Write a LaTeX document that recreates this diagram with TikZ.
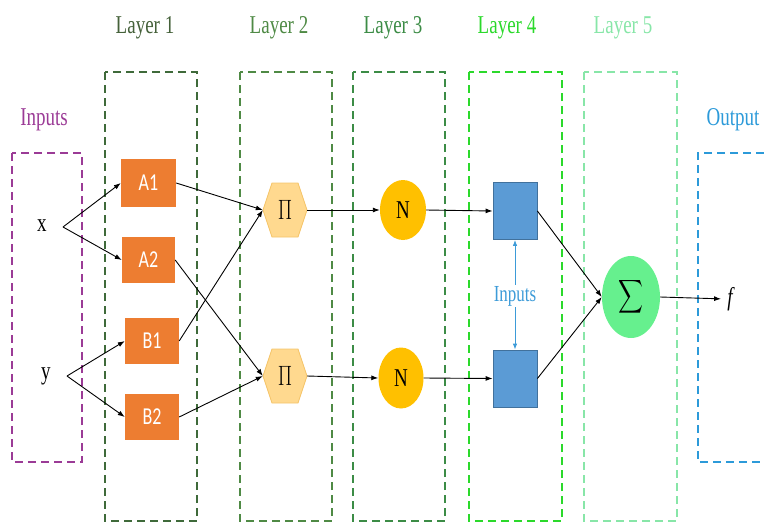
\documentclass[tikz,border=0pt]{standalone}
\usepackage{amsmath}
\usepackage{fontspec}
\setmainfont{Liberation Serif}
\newfontfamily\calib{Carlito}
\usetikzlibrary{arrows.meta,shapes.geometric}
\newcommand\vs[1]{\scalebox{1}[1.35]{#1}}
\definecolor{cpurple}{HTML}{9B3B96}
\definecolor{clayA}{HTML}{3F6A3A}
\definecolor{clayAt}{HTML}{45613A}
\definecolor{clayB}{HTML}{4F8A45}
\definecolor{clayC}{HTML}{3C8C46}
\definecolor{clayD}{HTML}{2BD92B}
\definecolor{clayE}{HTML}{88E6A8}
\definecolor{cblue}{HTML}{2C9AD9}
\definecolor{corange}{HTML}{ED7D31}
\definecolor{chex}{HTML}{FFD98F}
\definecolor{chexb}{HTML}{F5C56B}
\definecolor{cgold}{HTML}{FFC000}
\definecolor{csq}{HTML}{5B9BD5}
\definecolor{csqb}{HTML}{41719C}
\definecolor{csig}{HTML}{66F08E}
\definecolor{cinp}{HTML}{3D9BD8}
\tikzset{
  dbox/.style={line width=2.6pt, dash pattern=on 8pt off 5pt},
  lab/.style={font=\fontsize{19}{21}\selectfont},
  obox/.style={rectangle, fill=corange, text=white, inner sep=0pt, font=\calib\fontsize{18}{20}\selectfont},
  hexlab/.style={rectangle, minimum width=44pt, minimum height=54pt, inner sep=0pt, font=\fontsize{21}{23}\selectfont},
  nnode/.style={ellipse, fill=cgold, minimum width=46pt, minimum height=60pt, inner sep=0pt, font=\fontsize{19}{21}\selectfont},
  sqnode/.style={rectangle, fill=csq, draw=csqb, line width=0.8pt, minimum width=44pt, minimum height=57pt, inner sep=0pt},
  arr/.style={-{Latex[length=7pt,width=5pt]}, line width=0.9pt, black},
  barr/.style={-{Latex[length=6pt,width=4.5pt]}, line width=0.8pt, cinp},
}
\begin{document}
\begin{tikzpicture}[x=1pt,y=-1pt]
\useasboundingbox (0,0) rectangle (764,523);
% layer boxes
\draw[dbox, cpurple] (12,153) rectangle (82,462);
\draw[dbox, clayA] (105,72) rectangle (197,521);
\draw[dbox, clayB] (240,72) rectangle (332,521);
\draw[dbox, clayC] (353,72) rectangle (445,521);
\draw[dbox, clayD] (469,72) rectangle (562,521);
\draw[dbox, clayE] (584,72) rectangle (677,521);
\draw[dbox, cblue] (764,153) -- (698,153) -- (698,462) -- (764,462);
% labels
\node[lab, text=cpurple] (linp) at (44,120) {\vs{Inputs}};
\node[lab, text=clayAt] (l1) at (145,28) {\vs{Layer 1}};
\node[lab, text=clayB] (l2) at (279,28) {\vs{Layer 2}};
\node[lab, text=clayC] (l3) at (393,28) {\vs{Layer 3}};
\node[lab, text=clayD] (l4) at (507,28) {\vs{Layer 4}};
\node[lab, text=clayE] (l5) at (623,28) {\vs{Layer 5}};
\node[lab, text=cblue] (lout) at (733,120) {\vs{Output}};
% inputs
\node[lab, inner sep=1pt] (x) at (42,226) {\vs{x}};
\node[lab, inner sep=1pt] (y) at (46,376) {\vs{y}};
\coordinate (xo) at (63,227);
\coordinate (yo) at (67,376);
% layer 1
\node[obox, minimum width=55pt, minimum height=48pt] (A1) at (148.5,183) {\vs{A1}};
\node[obox, minimum width=53pt, minimum height=46pt] (A2) at (148.5,260) {\vs{A2}};
\node[obox, minimum width=54pt, minimum height=46pt] (B1) at (152,341) {\vs{B1}};
\node[obox, minimum width=54pt, minimum height=46pt] (B2) at (152,417) {\vs{B2}};
% layer 2 hexagons
\filldraw[fill=chex, draw=chexb, line width=0.8pt] (272,183) -- (298,183) -- (307,210) -- (298,237) -- (272,237) -- (263,210) -- cycle;
\filldraw[fill=chex, draw=chexb, line width=0.8pt] (272,349) -- (298,349) -- (307,376) -- (298,403) -- (272,403) -- (263,376) -- cycle;
\node[hexlab] (P1) at (285,210) {\vs{$\Pi$}};
\node[hexlab] (P2) at (285,376) {\vs{$\Pi$}};
% layer 3
\node[nnode] (N1) at (403,210) {\vs{N}};
\node[nnode, minimum width=45pt, minimum height=61pt] (N2) at (401,378) {\vs{N}};
% layer 4
\node[sqnode] (S1) at (515,211) {};
\node[sqnode] (S2) at (515,378.5) {};
\node[font=\fontsize{17}{19}\selectfont, text=cinp, inner sep=1pt] (inp) at (515,296) {\vs{Inputs}};
% layer 5
\node[ellipse, fill=csig, minimum width=58pt, minimum height=82pt, inner sep=0pt, font=\fontsize{17}{19}\selectfont] (Sg) at (631,297) {\vs{$\displaystyle\sum$}};
\node[lab, inner sep=1pt] (f) at (731,299) {\vs{\textit{f}}};
% connectors
\draw[arr] (xo) -- (A1.west);
\draw[arr] (xo) -- (A2.west);
\draw[arr] (yo) -- (B1.west);
\draw[arr] (yo) -- (B2.west);
\draw[arr] (A1.east) -- (P1.west);
\draw[arr] (B1.east) -- (P1.west);
\draw[arr] (A2.east) -- (P2.west);
\draw[arr] (B2.east) -- (P2.west);
\draw[arr] (P1.east) -- (N1.west);
\draw[arr] (P2.east) -- (N2.west);
\draw[arr] (N1.east) -- (S1.west);
\draw[arr] (N2.east) -- (S2.west);
\draw[arr] (S1.east) -- (Sg.west);
\draw[arr] (S2.east) -- (Sg.west);
\draw[arr, shorten >=5pt] (Sg.east) -- (f.west);
\draw[barr] (inp.north) -- (S1.south);
\draw[barr] (inp.south) -- (S2.north);
\end{tikzpicture}
\end{document}
